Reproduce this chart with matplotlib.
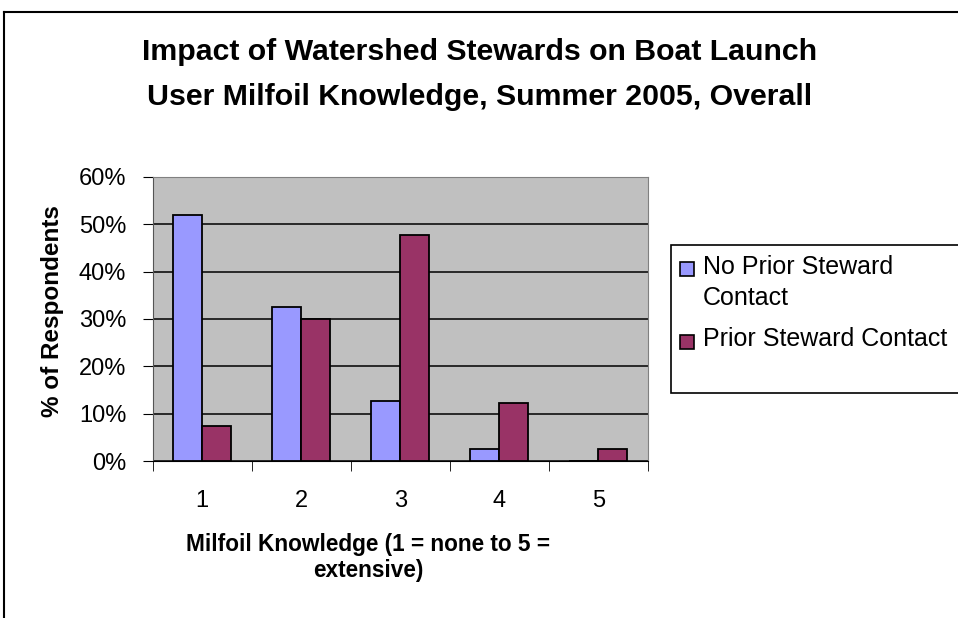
import matplotlib
matplotlib.use("Agg")
from matplotlib import pyplot as plt
from matplotlib.patches import Rectangle
from matplotlib.lines import Line2D
from matplotlib.ticker import PercentFormatter
import numpy as np

# data
knowledge = ["1", "2", "3", "4", "5"]
no_prior = [0.52, 0.325, 0.127, 0.025, 0.0]
prior = [0.075, 0.30, 0.477, 0.122, 0.025]
series_names = ["No Prior Steward\nContact", "Prior Steward Contact"]
series_colors = ["#9999FF", "#993366"]
title_lines = ["Impact of Watershed Stewards on Boat Launch",
               "User Milfoil Knowledge, Summer 2005, Overall"]
xlabel_lines = ["Milfoil Knowledge (1 = none to 5 =", "extensive)"]
ylabel = "% of Respondents"

plt.rcParams['font.family'] = ['Liberation Sans', 'DejaVu Sans']

W, H = 958, 618
fig = plt.figure(figsize=(W / 100, H / 100), dpi=100)
fig.patch.set_facecolor("white")

def fx(px):
	return px / W

def fy(py):
	return 1 - py / H

# plot area in pixel coords: x 152.7..648, y 177..461
ax = fig.add_axes([fx(152.7), fy(461), fx(648) - fx(152.7), fy(177) - fy(461)])
ax.set_facecolor("#C0C0C0")

x = np.arange(len(knowledge))
bw = 0.293
ax.bar(x - bw / 2, no_prior, bw, color=series_colors[0], edgecolor="black", linewidth=1.3, zorder=3)
ax.bar(x + bw / 2, prior, bw, color=series_colors[1], edgecolor="black", linewidth=1.3, zorder=3)

ax.set_xlim(-0.5, len(knowledge) - 0.5)
ax.set_ylim(0, 0.6)
ax.set_yticks(np.arange(0, 0.61, 0.1))
ax.yaxis.set_major_formatter(PercentFormatter(1.0, decimals=0))
ax.grid(axis="y", color="black", linewidth=1.1, zorder=1)
ax.set_axisbelow(True)

ax.set_xticks(x)
ax.set_xticklabels(knowledge)
ax.set_xticks(np.arange(-0.5, len(knowledge)), minor=True)
ax.tick_params(axis="x", which="major", length=0, pad=21, labelsize=17)
ax.tick_params(axis="x", which="minor", length=7, direction="out", color="black")
ax.tick_params(axis="y", length=7, direction="out", pad=12, labelsize=17, color="black")

for side in ["top", "right"]:
	ax.spines[side].set_color("#808080")
ax.spines["left"].set_color("#555555")
ax.spines["bottom"].set_color("black")

# title
fig.text(fx(480), fy(52), title_lines[0], ha="center", va="center", fontsize=21.8, fontweight="bold")
fig.text(fx(480), fy(97), title_lines[1], ha="center", va="center", fontsize=21.8, fontweight="bold")

# axis labels
fig.text(fx(53), fy(311), ylabel, rotation=90, ha="center", va="center", fontsize=17.5, fontweight="bold")
fig.text(fx(368), fy(545), xlabel_lines[0], ha="center", va="center", fontsize=16.3, fontweight="bold")
fig.text(fx(368), fy(571), xlabel_lines[1], ha="center", va="center", fontsize=16.3, fontweight="bold")

# legend box, cut off at the right edge
fig.patches.append(Rectangle((fx(671), fy(393)), fx(300), fy(245) - fy(393), transform=fig.transFigure,
	facecolor="white", edgecolor="black", linewidth=1.2))
fig.patches.append(Rectangle((fx(680), fy(276)), fx(14), fy(262) - fy(276), transform=fig.transFigure,
	facecolor=series_colors[0], edgecolor="black", linewidth=1.2))
fig.patches.append(Rectangle((fx(680), fy(349)), fx(14), fy(335) - fy(349), transform=fig.transFigure,
	facecolor=series_colors[1], edgecolor="black", linewidth=1.2))
name1 = series_names[0].split("\n")
fig.text(fx(703), fy(267), name1[0], ha="left", va="center", fontsize=18)
fig.text(fx(703), fy(298), name1[1], ha="left", va="center", fontsize=18)
fig.text(fx(703), fy(339), series_names[1], ha="left", va="center", fontsize=18)

# outer chart frame (top and left edges visible)
fig.lines.append(Line2D([fx(4), 1.0], [fy(11.5), fy(11.5)], transform=fig.transFigure, color="black", linewidth=1.5))
fig.lines.append(Line2D([fx(4), fx(4)], [fy(11.5), 0.0], transform=fig.transFigure, color="black", linewidth=1.5))

fig.savefig("out.png", dpi=100)
